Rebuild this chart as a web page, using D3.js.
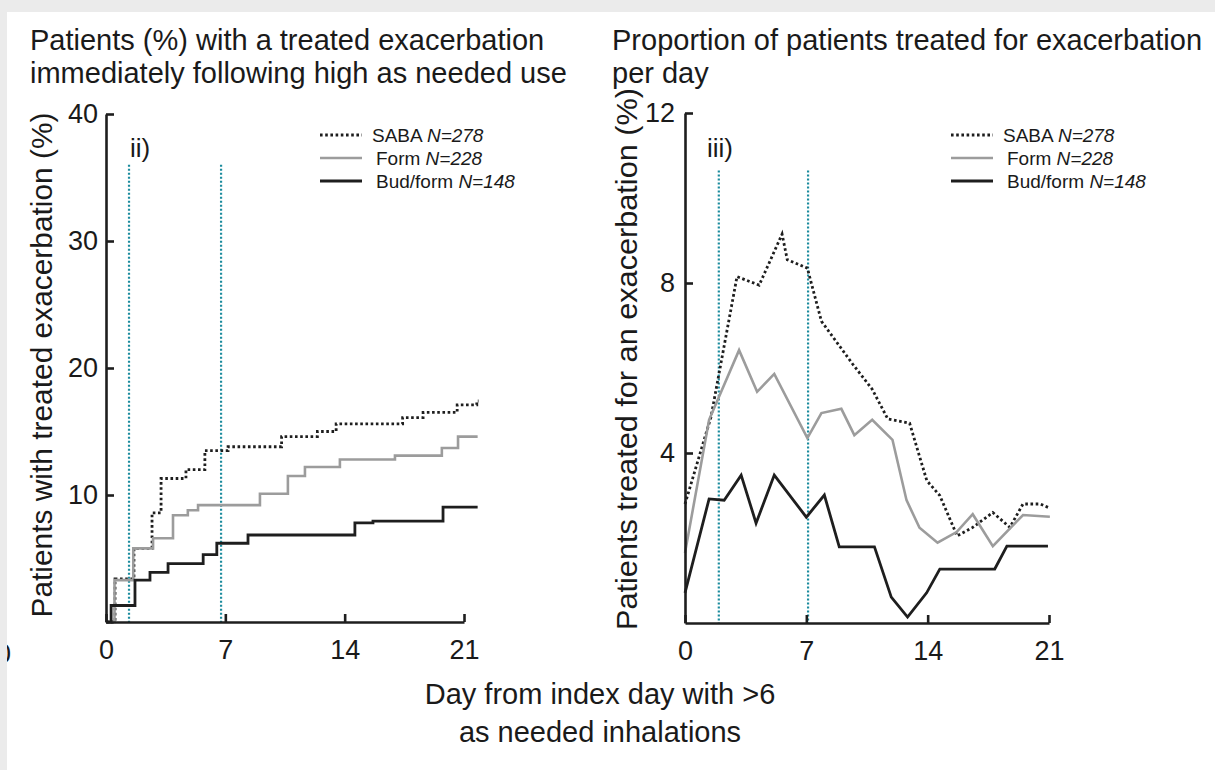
<!DOCTYPE html>
<html>
<head>
<meta charset="utf-8">
<script src="https://cdn.jsdelivr.net/npm/d3@7"></script>
<style>
  html, body { margin: 0; padding: 0; background: #ffffff; }
  svg { display: block; }
  text { font-family: "Liberation Sans", Arial, Helvetica, sans-serif; fill: #1a1a1a; }
</style>
</head>
<body>
<svg id="chart" width="1215" height="770"></svg>
<script>
// ---- Panel ii: cumulative % of patients with a treated exacerbation (step curves) ----
const cumSabaDays = [0, 0.53, 1.64, 2.7, 3.23, 4.69, 5.8, 7.16, 10.3, 12.4, 13.5, 17.4, 18.6, 20.6, 21.75, 21.85];
const cumSabaPct  = [0, 3.4, 5.8, 8.6, 11.3, 12.0, 13.5, 13.8, 14.6, 15.0, 15.6, 16.1, 16.5, 17.1, 17.4, 17.4];
const cumFormDays = [0, 0.5, 1.6, 2.76, 3.93, 4.8, 5.4, 9.03, 10.67, 11.67, 13.72, 16.95, 19.7, 20.65, 21.8];
const cumFormPct  = [0, 3.3, 5.8, 6.6, 8.4, 8.8, 9.2, 10.1, 11.5, 12.2, 12.8, 13.1, 13.7, 14.6, 14.6];
const cumBudDays  = [0, 0.3, 1.7, 2.58, 3.64, 5.7, 6.5, 8.33, 14.6, 15.66, 19.77, 21.8];
const cumBudPct   = [0, 1.3, 3.3, 3.9, 4.6, 5.3, 6.2, 6.85, 7.8, 7.95, 9.05, 9.05];

// ---- Panel iii: proportion of patients treated for exacerbation per day ----
const dailySabaDays = [0, 1.5, 3.0, 4.28, 5.6, 5.9, 7.06, 7.87, 9.66, 10.8, 11.7, 12.96, 13.95, 14.7, 15.7, 16.6, 17.76, 18.74, 19.5, 20.5, 21.05];
const dailySabaPct  = [2.8, 4.85, 8.15, 7.95, 9.15, 8.55, 8.35, 7.1, 6.1, 5.5, 4.8, 4.7, 3.35, 3.0, 2.05, 2.25, 2.6, 2.25, 2.8, 2.8, 2.7];
const dailyFormDays = [0, 1.39, 3.12, 4.16, 5.15, 7.06, 7.87, 9.02, 9.77, 10.8, 11.97, 12.78, 13.53, 14.57, 15.67, 16.6, 17.76, 19.5, 21.05];
const dailyFormPct  = [1.65, 4.78, 6.42, 5.44, 5.86, 4.35, 4.94, 5.04, 4.42, 4.78, 4.31, 2.89, 2.24, 1.89, 2.14, 2.56, 1.81, 2.54, 2.5];
const dailyBudDays  = [0, 1.39, 2.26, 3.24, 4.1, 5.15, 7.0, 8.04, 8.9, 10.93, 11.9, 12.84, 13.94, 14.7, 17.87, 18.57, 20.94];
const dailyBudPct   = [0.71, 2.92, 2.89, 3.48, 2.35, 3.48, 2.49, 3.01, 1.79, 1.79, 0.61, 0.14, 0.71, 1.27, 1.27, 1.81, 1.81];

// ---- axes, reference days and legend text ----
const dayTicks = [0, 7, 14, 21];
const cumTicks = [10, 20, 30, 40];
const dailyTicks = [4, 8, 12];
const cumMarkerDays = [1.35, 6.75];
const cumMarkerTop = 36;
const dailyMarkerDays = [1.95, 7.1];
const dailyMarkerTop = 10.65;
const seriesNames = ["SABA", "Form", "Bud/form"];
const seriesN = ["N=278", "N=228", "N=148"];

const leftTitle = ["Patients (%) with a treated exacerbation", "immediately following high as needed use"];
const rightTitle = ["Proportion of patients treated for exacerbation", "per day"];
const leftYLabel = "Patients with treated exacerbation (%)";
const rightYLabel = "Patients treated for an exacerbation (%)";
const xLabel = ["Day from index day with >6", "as needed inhalations"];

const INK = "#1e1e1e";
const GREY = "#9c9c9c";
const TEAL = "#1b8b9d";
const styles = [
  { stroke: INK,  width: 2.8, dash: "2.6,2.6" },
  { stroke: GREY, width: 2.6, dash: null },
  { stroke: INK,  width: 2.8, dash: null }
];

const svg = d3.select("#chart");

// page titles
function title(lines, x) {
  const t = svg.append("text").attr("x", x).attr("y", 50).attr("font-size", 29);
  lines.forEach((s, i) => t.append("tspan").attr("x", x).attr("y", 50 + i * 33).text(s));
}
title(leftTitle, 30);
title(rightTitle, 612);

function zipSeries(days, vals) { return days.map((d, i) => ({ d, v: vals[i] })); }

function panel(opts) {
  const x = d3.scaleLinear().domain([0, 21]).range(opts.xRange);
  const y = d3.scaleLinear().domain([0, opts.yMax]).range(opts.yRange);
  const g = svg.append("g");

  // reference day markers
  g.selectAll("line.marker").data(opts.markers).join("line")
    .attr("class", "marker")
    .attr("x1", d => x(d)).attr("x2", d => x(d))
    .attr("y1", y(opts.markerTop)).attr("y2", y(0))
    .attr("stroke", TEAL).attr("stroke-width", 2.2).attr("stroke-dasharray", "2,2");

  // series
  const line = d3.line().x(p => x(p.d)).y(p => y(p.v)).curve(opts.curve);
  opts.series.forEach((s, i) => {
    g.append("path").datum(s)
      .attr("d", line)
      .attr("fill", "none")
      .attr("stroke", styles[i].stroke)
      .attr("stroke-width", styles[i].width)
      .attr("stroke-linejoin", "miter")
      .attr("stroke-dasharray", styles[i].dash);
  });

  // axes
  const xAxis = d3.axisBottom(x).tickValues(dayTicks).tickSizeInner(-8).tickSizeOuter(0).tickPadding(18);
  const yAxis = d3.axisLeft(y).tickValues(opts.yTicks).tickSizeInner(-8).tickSizeOuter(0).tickPadding(opts.yPad);
  const gx = g.append("g").attr("transform", `translate(0,${y(0)})`).call(xAxis);
  const gy = g.append("g").attr("transform", `translate(${x(0)},0)`).call(yAxis);
  [gx, gy].forEach(a => {
    a.selectAll("path, line").attr("stroke", INK).attr("stroke-width", 2.6);
    a.selectAll("text").attr("font-size", 27).attr("fill", "#1a1a1a")
      .attr("font-family", '"Liberation Sans", Arial, sans-serif');
  });

  // panel tag
  g.append("text").attr("x", opts.tagX).attr("y", 157).attr("font-size", 26).text(opts.tag);

  // y label
  g.append("text")
    .attr("transform", `translate(${opts.yLabelX},${opts.yLabelY}) rotate(-90)`)
    .attr("text-anchor", "middle").attr("font-size", 29)
    .attr("textLength", opts.yLabelLen).attr("lengthAdjust", "spacingAndGlyphs")
    .text(opts.yLabel);

  // legend
  const lg = g.append("g");
  seriesNames.forEach((name, i) => {
    const yy = 135 + i * 23;
    lg.append("line")
      .attr("x1", opts.legX).attr("x2", opts.legX + 42)
      .attr("y1", yy).attr("y2", yy)
      .attr("stroke", styles[i].stroke).attr("stroke-width", styles[i].width)
      .attr("stroke-dasharray", styles[i].dash);
    const t = lg.append("text").attr("x", opts.legX + 52 + (i ? 4 : 0)).attr("y", yy + 7).attr("font-size", 19);
    t.append("tspan").text(name + " ");
    t.append("tspan").attr("font-style", "italic").text(seriesN[i]);
  });
}

panel({
  xRange: [106, 464], yRange: [622, 114], yMax: 40, yTicks: cumTicks, yPad: 8,
  markers: cumMarkerDays, markerTop: cumMarkerTop, curve: d3.curveStepAfter,
  series: [zipSeries(cumSabaDays, cumSabaPct), zipSeries(cumFormDays, cumFormPct), zipSeries(cumBudDays, cumBudPct)],
  tag: "ii)", tagX: 130, yLabel: leftYLabel, yLabelX: 52, yLabelY: 365, yLabelLen: 505, legX: 320
});

panel({
  xRange: [685, 1049], yRange: [623, 113], yMax: 12, yTicks: dailyTicks, yPad: 10,
  markers: dailyMarkerDays, markerTop: dailyMarkerTop, curve: d3.curveLinear,
  series: [zipSeries(dailySabaDays, dailySabaPct), zipSeries(dailyFormDays, dailyFormPct), zipSeries(dailyBudDays, dailyBudPct)],
  tag: "iii)", tagX: 707, yLabel: rightYLabel, yLabelX: 637, yLabelY: 359, yLabelLen: 542, legX: 951
});

// shared x label
const xl = svg.append("text").attr("text-anchor", "middle").attr("font-size", 29);
xLabel.forEach((s, i) => xl.append("tspan").attr("x", 600).attr("y", 704 + i * 38).text(s));

// edge of a neighbouring label, then the grey page frame
svg.append("text").attr("x", 11).attr("y", 663).attr("text-anchor", "end").attr("font-size", 27).text("0");
svg.append("rect").attr("x", 0).attr("y", 0).attr("width", 1215).attr("height", 12).attr("fill", "#ebebeb");
svg.append("rect").attr("x", 0).attr("y", 0).attr("width", 7).attr("height", 770).attr("fill", "#ebebeb");
</script>
</body>
</html>
